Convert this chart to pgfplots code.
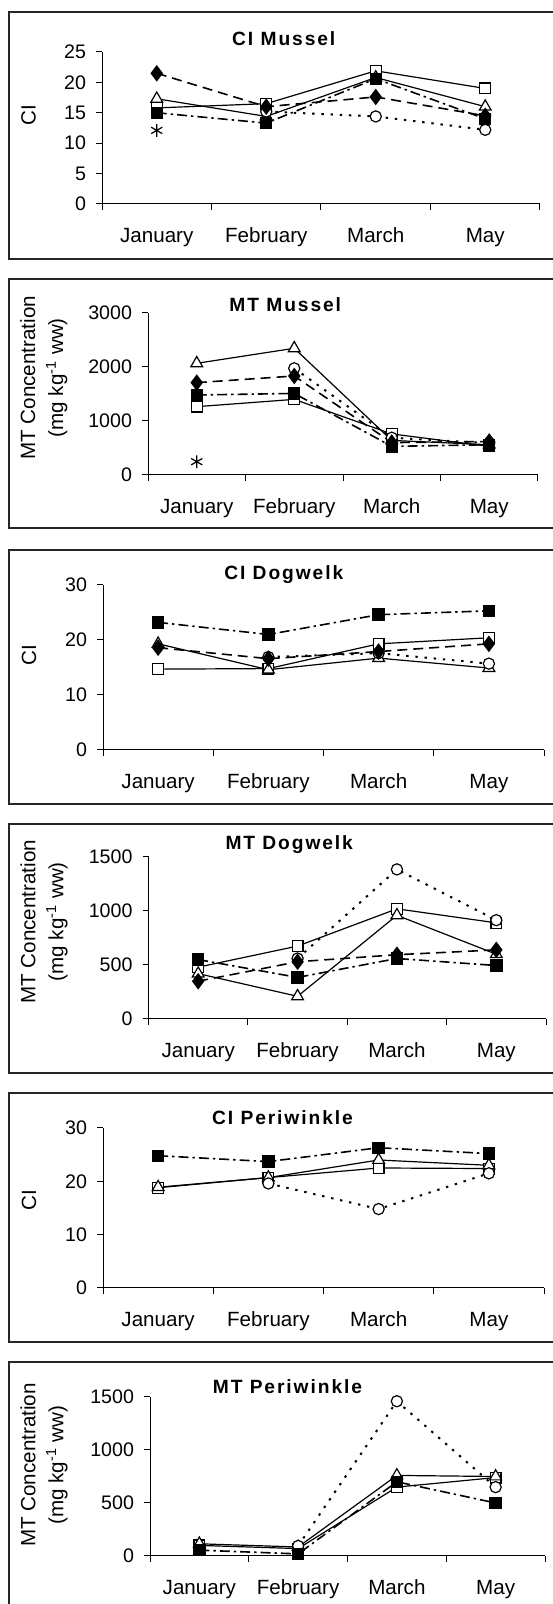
\documentclass[border=0pt]{standalone}
\usepackage{fontspec}
\setmainfont{Liberation Sans}
\usepackage{pgfplots}
\pgfplotsset{compat=1.18}

\pgfplotsset{
  sq/.style={black, solid, line width=0.6pt, mark=square*, mark size=2.7pt, mark options={solid, fill=white, line width=0.6pt}},
  tri/.style={black, solid, line width=0.6pt, mark=triangle*, mark size=3.4pt, mark options={solid, fill=white, line width=0.6pt}},
  dia/.style={black, line width=0.8pt, dash pattern=on 5pt off 3pt, mark=diamond*, mark size=3.5pt, mark options={solid, fill=black}},
  fsq/.style={black, line width=0.8pt, dash pattern=on 5pt off 2pt on 1.2pt off 2pt, mark=square*, mark size=2.7pt, mark options={solid, fill=black}},
  circ/.style={black, line width=1pt, dash pattern=on 1.2pt off 3.4pt, mark=*, mark size=2.8pt, mark options={solid, fill=white, line width=0.6pt}},
  ast/.style={black, only marks, mark=asterisk, mark size=3.2pt, mark options={line width=0.6pt}},
  panel/.style={
    scale only axis, anchor=south west, clip=false,
    xmin=-0.5, xmax=3.5, ymin=0,
    axis x line*=bottom, axis y line*=left,
    axis line style={-, black, line width=0.5pt},
    xtick={-0.5,0.5,1.5,2.5,3.5}, xticklabels={},
    extra x ticks={0,1,2,3},
    extra x tick labels={January,February,March,May},
    extra x tick style={major tick length=0pt},
    tick align=outside, major tick length=3pt,
    tick style={black, line width=0.5pt},
    scaled y ticks=false,
    /pgf/number format/assume math mode=true,
    /pgf/number format/1000 sep={},
    yticklabel style={font=\fontsize{9.8}{11}\selectfont, xshift=-1.5pt},
    xticklabel style={font=\fontsize{10.3}{12}\selectfont, yshift=-8.5pt},
    ylabel style={anchor=center, font=\fontsize{10.3}{14}\selectfont, align=center},
    every axis title shift=0pt,
    title style={anchor=center, font=\fontsize{9.6}{11}\selectfont\bfseries\addfontfeature{LetterSpace=10}},
  },
}

\begin{document}
\begin{tikzpicture}
\useasboundingbox (0,0) rectangle (276pt,802pt);
\foreach \t/\b in {12/259, 279/528, 550/804, 824/1073, 1093/1342} {
  \draw[line width=0.6pt, black!85] (290pt,{(1604-\t)*0.5pt}) -- (4.5pt,{(1604-\t)*0.5pt}) -- (4.5pt,{(1604-\b)*0.5pt}) -- (290pt,{(1604-\b)*0.5pt});
}
\draw[line width=0.6pt, black!85] (290pt,{(1604-1362)*0.5pt}) -- (4.5pt,{(1604-1362)*0.5pt}) -- (4.5pt,-10pt);

% Panel 1: CI Mussel
\begin{axis}[panel, at={(51pt,700pt)}, width=219pt, height=76pt,
  ymax=25, ytick={0,5,10,15,20,25},
  title={CI Mussel}, title style={at={(axis description cs:0.415,1.086)}},
  ylabel={CI}, ylabel style={at={(axis description cs:-0.168,0.586)}}]
\addplot[sq] coordinates {(0,15.8)(1,16.5)(2,21.9)(3,19.0)};
\addplot[tri] coordinates {(0,17.3)(1,14.4)(2,20.8)(3,16.0)};
\addplot[circ] coordinates {(1,15.2)(2,14.4)(3,12.2)};
\addplot[dia] coordinates {(0,21.5)(1,16.0)(2,17.6)(3,14.5)};
\addplot[fsq] coordinates {(0,15.0)(1,13.3)(2,20.6)(3,14.0)};
\addplot[ast] coordinates {(0,12.1)};
\end{axis}

% Panel 2: MT Mussel
\begin{axis}[panel, at={(74pt,564.5pt)}, width=195pt, height=81pt,
  ymax=3000, ytick={0,1000,2000,3000},
  title={MT Mussel}, title style={at={(axis description cs:0.352,1.049)}},
  ylabel={MT Concentration\\(mg kg\textsuperscript{-1} ww)}, ylabel style={at={(axis description cs:-0.267,0.6)}}]
\addplot[sq] coordinates {(0,1265)(1,1400)(2,760)(3,530)};
\addplot[tri] coordinates {(0,2068)(1,2346)(2,640)(3,560)};
\addplot[circ] coordinates {(1,1975)(2,690)(3,590)};
\addplot[dia] coordinates {(0,1710)(1,1833)(2,600)(3,620)};
\addplot[fsq] coordinates {(0,1481)(1,1510)(2,530)(3,560)};
\addplot[ast] coordinates {(0,246)};
\end{axis}

% Panel 3: CI Dogwelk
\begin{axis}[panel, at={(51.5pt,427pt)}, width=220.5pt, height=82.5pt,
  ymax=30, ytick={0,10,20,30},
  title={CI Dogwelk}, title style={at={(axis description cs:0.41,1.061)}},
  ylabel={CI}, ylabel style={at={(axis description cs:-0.168,0.576)}}]
\addplot[sq] coordinates {(0,14.7)(1,14.8)(2,19.3)(3,20.4)};
\addplot[tri] coordinates {(0,19.3)(1,14.6)(2,16.7)(3,14.9)};
\addplot[circ] coordinates {(1,16.9)(2,17.6)(3,15.7)};
\addplot[dia] coordinates {(0,18.6)(1,16.6)(2,17.9)(3,19.3)};
\addplot[fsq] coordinates {(0,23.2)(1,21.0)(2,24.6)(3,25.3)};
\end{axis}

% Panel 4: MT Dogwelk
\begin{axis}[panel, at={(74.25pt,292.5pt)}, width=198.75pt, height=81pt,
  ymax=1500, ytick={0,500,1000,1500},
  title={MT Dogwelk}, title style={at={(axis description cs:0.354,1.074)}},
  ylabel={MT Concentration\\(mg kg\textsuperscript{-1} ww)}, ylabel style={at={(axis description cs:-0.263,0.6)}}]
\addplot[sq] coordinates {(0,480)(1,675)(2,1020)(3,890)};
\addplot[tri] coordinates {(0,420)(1,210)(2,960)(3,600)};
\addplot[circ] coordinates {(1,560)(2,1385)(3,915)};
\addplot[dia] coordinates {(0,350)(1,530)(2,595)(3,640)};
\addplot[fsq] coordinates {(0,550)(1,385)(2,560)(3,495)};
\end{axis}

% Panel 5: CI Periwinkle
\begin{axis}[panel, at={(51.5pt,158pt)}, width=220.5pt, height=80pt,
  ymax=30, ytick={0,10,20,30},
  title={CI Periwinkle}, title style={at={(axis description cs:0.407,1.0625)}},
  ylabel={CI}, ylabel style={at={(axis description cs:-0.168,0.55)}}]
\addplot[sq] coordinates {(0,18.8)(1,20.7)(2,22.5)(3,22.4)};
\addplot[tri] coordinates {(0,18.9)(1,20.7)(2,24.0)(3,23.0)};
\addplot[circ] coordinates {(1,19.6)(2,14.8)(3,21.5)};
\addplot[fsq] coordinates {(0,24.8)(1,23.7)(2,26.3)(3,25.2)};
\end{axis}

% Panel 6: MT Periwinkle
\begin{axis}[panel, at={(75pt,24pt)}, width=197.5pt, height=79.5pt,
  ymax=1500, ytick={0,500,1000,1500},
  title={MT Periwinkle}, title style={at={(axis description cs:0.348,1.063)}},
  ylabel={MT Concentration\\(mg kg\textsuperscript{-1} ww)}, ylabel style={at={(axis description cs:-0.268,0.572)}}]
\addplot[sq] coordinates {(0,100)(1,70)(2,650)(3,740)};
\addplot[tri] coordinates {(0,115)(1,85)(2,760)(3,750)};
\addplot[circ] coordinates {(1,95)(2,1460)(3,650)};
\addplot[fsq] coordinates {(0,55)(1,20)(2,700)(3,500)};
\end{axis}
\end{tikzpicture}
\end{document}
